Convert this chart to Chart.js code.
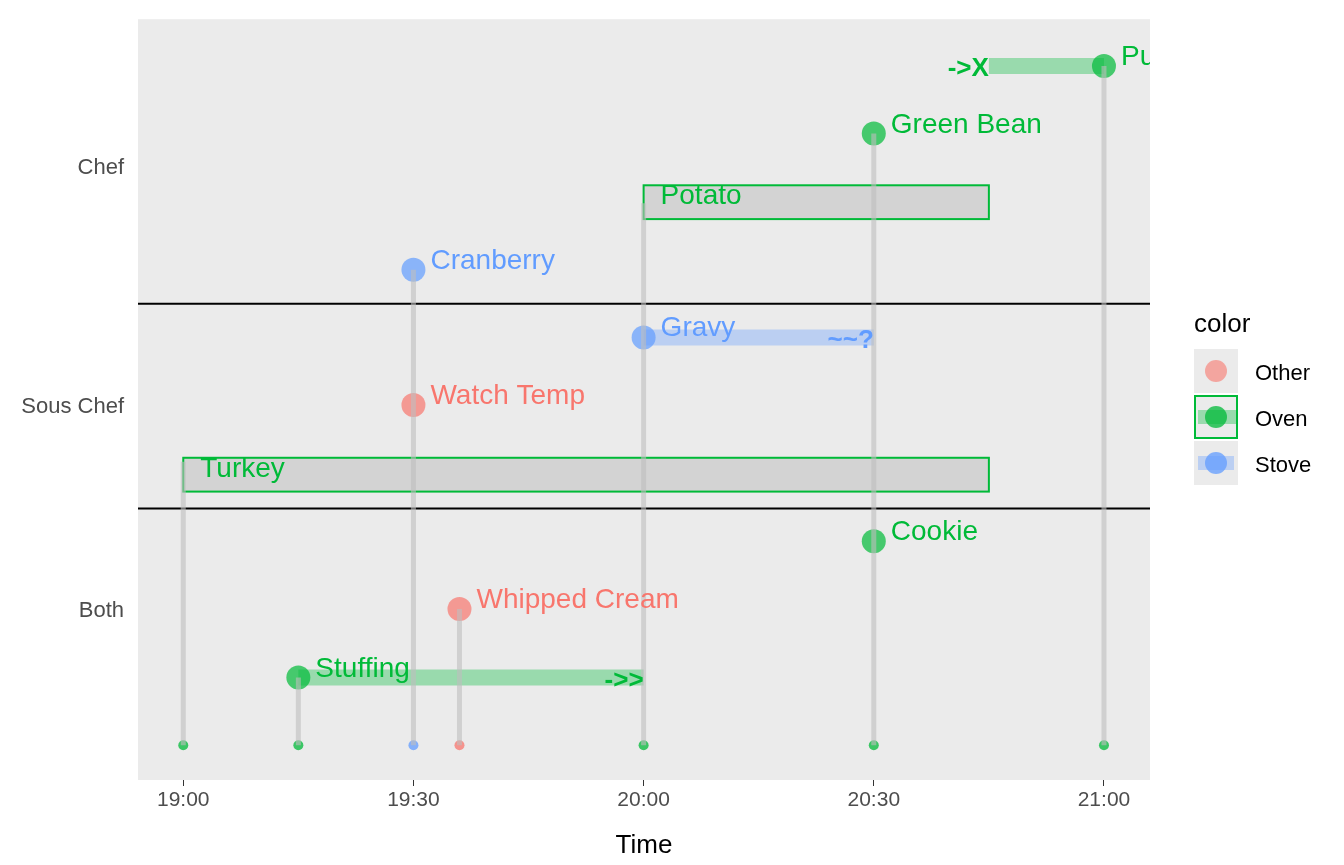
<!DOCTYPE html>
<html><head><meta charset="utf-8">
<script src="https://cdn.jsdelivr.net/npm/chart.js@4"></script>
<style>
body{margin:0;background:#fff;font-family:"Liberation Sans",Arial,sans-serif}
#wrap{position:relative;width:1344px;height:865px}
.lg{position:absolute;font-size:22px;color:#000}
.key{position:absolute;width:44px;height:44px;background:#ebebeb}
</style></head>
<body><div id="wrap"><canvas id="c" width="1344" height="865"></canvas>
<div class="lg" style="left:1194px;top:308px;font-size:26px">color</div>
<div class="key" style="left:1194px;top:349px"><div style="position:absolute;left:11px;top:11px;width:22px;height:22px;border-radius:50%;background:rgba(248,118,109,0.6)"></div></div>
<div class="lg" style="left:1255px;top:360px">Other</div>
<div class="key" style="left:1194px;top:395px;border:2px solid #00BA38;box-sizing:border-box"><div style="position:absolute;left:2px;top:13px;width:38px;height:14px;background:rgba(0,186,56,0.35)"></div><div style="position:absolute;left:9px;top:9px;width:22px;height:22px;border-radius:50%;background:rgba(0,186,56,0.75)"></div></div>
<div class="lg" style="left:1255px;top:406px">Oven</div>
<div class="key" style="left:1194px;top:441px"><div style="position:absolute;left:4px;top:15px;width:36px;height:14px;background:rgba(97,156,255,0.35)"></div><div style="position:absolute;left:11px;top:11px;width:22px;height:22px;border-radius:50%;background:rgba(97,156,255,0.75)"></div></div>
<div class="lg" style="left:1255px;top:452px">Stove</div>
</div>
<script>
// x in minutes after 19:00, y in plot units (0 = bottom of panel)
var red = "#F8766D", green = "#00BA38", blue = "#619CFF";
var tickMinutes = [0, 30, 60, 90, 120];
var tickLabels = ["19:00", "19:30", "20:00", "20:30", "21:00"];
var rowValues = [615, 375, 170];
var rowLabels = ["Chef", "Sous Chef", "Both"];
var dividers = [479, 273];

var baseX = [0, 15, 30, 36, 60, 90, 120];
var baseColor = [green, green, blue, red, green, green, green];
var baseY = 35;
var stemTop = [320, 103, 513, 172, 580, 650, 718];

var evLabels = ["Cranberry", "Watch Temp", "Gravy", "Green Bean", "Pumpkin Pie", "Cookie", "Whipped Cream", "Stuffing"];
var evX = [30, 30, 60, 90, 120, 90, 36, 15];
var evY = [513, 377, 445, 650, 718, 240, 172, 103];
var evColor = [blue, red, blue, green, green, green, red, green];

var segStart = [15, 60, 105];
var segEnd = [60, 90, 120];
var segY = [103, 445, 718];
var segColor = [green, blue, green];
var segTag = ["->>", "~~?", "->X"];

var boxLabels = ["Potato", "Turkey"];
var boxStart = [60, 0];
var boxEnd = [105, 105];
var boxTop = [598, 324];
var boxBottom = [564, 290];

function rgba(h, a) {
  var n = parseInt(h.slice(1), 16);
  return "rgba(" + (n >> 16) + "," + ((n >> 8) & 255) + "," + (n & 255) + "," + a + ")";
}

var datasets = [];
baseX.forEach(function (x, i) {
  datasets.push({data: [{x: x, y: baseY}, {x: x, y: stemTop[i]}], borderColor: "rgba(190,190,190,0.6)", borderWidth: 5, pointRadius: 0});
});
segStart.forEach(function (s, i) {
  datasets.push({data: [{x: s, y: segY[i]}, {x: segEnd[i], y: segY[i]}], borderColor: rgba(segColor[i], 0.35), borderWidth: 16, borderCapStyle: "butt", pointRadius: 0});
});
baseX.forEach(function (x, i) {
  datasets.push({data: [{x: x, y: baseY}], showLine: false, pointRadius: 5, pointBackgroundColor: rgba(baseColor[i], 0.75), pointBorderWidth: 0});
});
evX.forEach(function (x, i) {
  datasets.push({data: [{x: x, y: evY[i]}], showLine: false, pointRadius: 12, pointBackgroundColor: rgba(evColor[i], 0.7), pointBorderWidth: 0});
});

var deco = {
  id: "deco",
  beforeDatasetsDraw: function (c) {
    var ctx = c.ctx, xs = c.scales.x, ys = c.scales.y, a = c.chartArea;
    ctx.save();
    boxStart.forEach(function (s, i) {
      var x0 = xs.getPixelForValue(s), x1 = xs.getPixelForValue(boxEnd[i]);
      var y0 = ys.getPixelForValue(boxTop[i]), y1 = ys.getPixelForValue(boxBottom[i]);
      ctx.fillStyle = "#d3d3d3"; ctx.fillRect(x0, y0, x1 - x0, y1 - y0);
      ctx.strokeStyle = green; ctx.lineWidth = 2; ctx.strokeRect(x0, y0, x1 - x0, y1 - y0);
    });
    ctx.strokeStyle = "#000"; ctx.lineWidth = 2;
    dividers.forEach(function (d) {
      var y = ys.getPixelForValue(d);
      ctx.beginPath(); ctx.moveTo(a.left, y); ctx.lineTo(a.right, y); ctx.stroke();
    });
    ctx.restore();
  },
  afterDatasetsDraw: function (c) {
    var ctx = c.ctx, xs = c.scales.x, ys = c.scales.y, a = c.chartArea;
    ctx.save();
    ctx.beginPath(); ctx.rect(a.left, a.top, a.right - a.left, a.bottom - a.top); ctx.clip();
    ctx.font = "28px 'Liberation Sans', Arial"; ctx.textBaseline = "alphabetic";
    evLabels.forEach(function (t, i) {
      ctx.fillStyle = evColor[i];
      ctx.fillText(t, xs.getPixelForValue(evX[i]) + 17, ys.getPixelForValue(evY[i]) - 1);
    });
    boxLabels.forEach(function (t, i) {
      ctx.fillStyle = green;
      ctx.fillText(t, xs.getPixelForValue(boxStart[i]) + 17, ys.getPixelForValue(boxTop[i]) + 19);
    });
    ctx.font = "bold 26px 'Liberation Sans', Arial"; ctx.textAlign = "right"; ctx.textBaseline = "middle";
    segTag.forEach(function (t, i) {
      ctx.fillStyle = segColor[i];
      var x = i == 2 ? xs.getPixelForValue(segStart[i]) : xs.getPixelForValue(segEnd[i]);
      ctx.fillText(t, x, ys.getPixelForValue(segY[i]) + 3);
    });
    ctx.restore();
  }
};

var bg = {
  id: "bg",
  beforeDraw: function (c) {
    var a = c.chartArea;
    c.ctx.fillStyle = "#ebebeb";
    c.ctx.fillRect(a.left, a.top, a.right - a.left, a.bottom - a.top);
  }
};

new Chart(document.getElementById("c"), {
  type: "line",
  data: {datasets: datasets},
  plugins: [bg, deco],
  options: {
    responsive: false, animation: false,
    layout: {padding: {top: 15, right: 194, left: 0, bottom: 0}},
    plugins: {legend: {display: false}, tooltip: {enabled: false}},
    scales: {
      x: {
        type: "linear", min: -5.9, max: 126,
        afterBuildTicks: function (s) { s.ticks = tickMinutes.map(function (v) { return {value: v}; }); },
        ticks: {autoSkip: false, maxRotation: 0, padding: 2, color: "#4d4d4d", font: {size: 21, family: "Liberation Sans"},
          callback: function (v) { return tickLabels[tickMinutes.indexOf(v)]; }},
        grid: {display: true, drawOnChartArea: false, drawTicks: true, tickLength: 6, tickColor: "#333", color: "#333", lineWidth: 1},
        border: {display: false},
        title: {display: true, text: "Time", color: "#000", font: {size: 26, family: "Liberation Sans"}, padding: {top: 0}},
        afterFit: function (s) { s.height = 85; }
      },
      y: {
        type: "linear", min: 0, max: 765,
        afterBuildTicks: function (s) { s.ticks = rowValues.map(function (v) { return {value: v}; }); },
        ticks: {autoSkip: false, padding: 6, color: "#4d4d4d", font: {size: 22, family: "Liberation Sans"},
          callback: function (v) { return rowLabels[rowValues.indexOf(v)]; }},
        grid: {display: false},
        border: {display: false},
        afterFit: function (s) { s.width = 138; }
      }
    }
  }
});
</script></body></html>
